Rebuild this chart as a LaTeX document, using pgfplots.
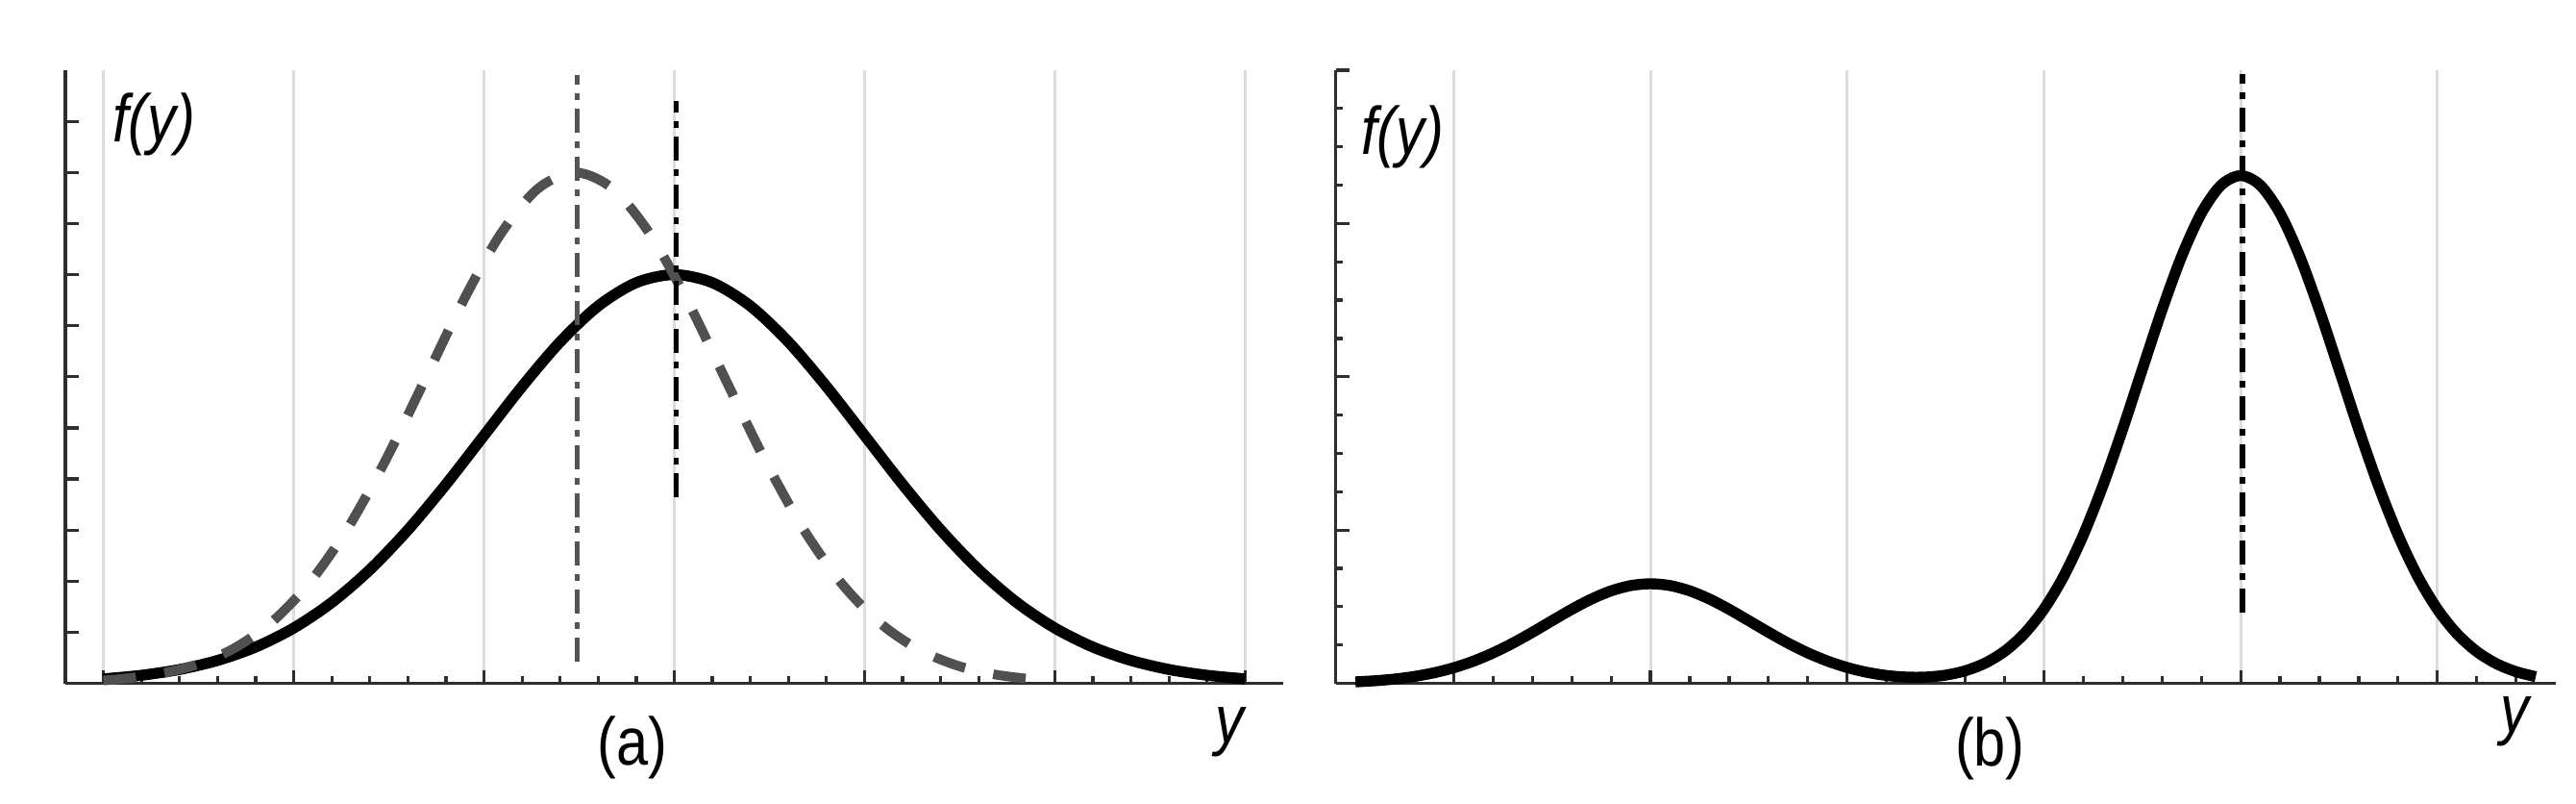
\documentclass[border=0pt]{standalone}
\usepackage{fontspec}
\setmainfont{Liberation Sans}
\usepackage{pgfplots}
\pgfplotsset{compat=1.18}
\definecolor{axiscol}{HTML}{2E2E2E}
\definecolor{gridcol}{HTML}{DCDCDC}
\definecolor{dashcol}{HTML}{505050}
\definecolor{dotcol}{HTML}{555555}

\pgfplotsset{
  mystyle/.style={
    scale only axis,
    axis lines*=left,
    axis line style={line width=0.85pt, color=axiscol},
    tick align=inside,
    tick style={line width=0.8pt, color=axiscol},
    major tick length=3.5pt,
    minor tick length=1.85pt,
    xticklabel=\empty, yticklabel=\empty,
    xmajorgrids=true,
    grid style={line width=0.75pt, color=gridcol},
    ymin=0,
    clip=false,
  },
  dashdot/.style={line width=1.4pt, dash pattern=on 6.25pt off 2.25pt on 1.75pt off 2.25pt},
}

\begin{document}
\begin{tikzpicture}
\path[use as bounding box] (0,0) rectangle (670pt,209pt);

% ---------------- panel (a)
\begin{axis}[mystyle, at={(17pt,31.35pt)}, anchor=south west,
  width=316.75pt, height=159.4pt,
  xmin=-0.2, xmax=6.2, ymax=12,
  xtick={0,1,2,3,4,5,6},
  minor xtick={0.2,0.4,0.6,0.8,1.2,1.4,1.6,1.8,2.2,2.4,2.6,2.8,3.2,3.4,3.6,3.8,4.2,4.4,4.6,4.8,5.2,5.4,5.6,5.8},
  ytick={1,2,3,4,5,6,7,8,9,10,11}]
\addplot[black, line width=2.85pt, smooth] coordinates {
(0.0,0.089) (0.2,0.159) (0.4,0.272) (0.6,0.449) (0.8,0.711) (1.0,1.083)
(1.2,1.583) (1.4,2.224) (1.6,3.003) (1.8,3.894) (2.0,4.852) (2.2,5.809)
(2.4,6.682) (2.6,7.385) (2.8,7.842) (3.0,8.000) (3.2,7.842) (3.4,7.385)
(3.6,6.682) (3.8,5.809) (4.0,4.852) (4.2,3.894) (4.4,3.003) (4.6,2.224)
(4.8,1.583) (5.0,1.083) (5.2,0.711) (5.4,0.449) (5.6,0.272) (5.8,0.159)
(6.0,0.089)};
\addplot[dashcol, line width=2.5pt, smooth, dash pattern=on 8.5pt off 7.5pt] coordinates {
(0.00,0.059) (0.08,0.082) (0.28,0.177) (0.48,0.357) (0.68,0.672) (0.88,1.184)
(1.08,1.953) (1.28,3.012) (1.48,4.346) (1.68,5.866) (1.88,7.408) (2.08,8.752)
(2.28,9.672) (2.48,10.000) (2.68,9.672) (2.88,8.752) (3.08,7.408) (3.28,5.866)
(3.48,4.346) (3.68,3.012) (3.88,1.953) (4.08,1.184) (4.28,0.672) (4.48,0.357)
(4.68,0.177) (4.88,0.082) (4.96,0.059)};
\addplot[dotcol, dashdot] coordinates {(2.49,0.43) (2.49,11.91)};
\addplot[black, dashdot] coordinates {(3.01,3.64) (3.01,11.39)};
\end{axis}

% ---------------- panel (b)
\begin{axis}[mystyle, at={(347.4pt,31.35pt)}, anchor=south west,
  width=317.25pt, height=159.4pt,
  xmin=-0.6, xmax=5.6, ymax=16,
  xtick={0,1,2,3,4,5},
  minor xtick={-0.4,-0.2,0.2,0.4,0.6,0.8,1.2,1.4,1.6,1.8,2.2,2.4,2.6,2.8,3.2,3.4,3.6,3.8,4.2,4.4,4.6,4.8,5.2,5.4},
  ytick={4,8,12,16},
  minor ytick={1,2,3,5,6,7,9,10,11,13,14,15}]
\addplot[black, line width=2.85pt, smooth] coordinates {
(-0.5,0.040) (-0.4,0.069) (-0.3,0.114) (-0.2,0.181) (-0.1,0.277) (0.0,0.408)
(0.1,0.580) (0.2,0.795) (0.3,1.049) (0.4,1.335) (0.5,1.636) (0.6,1.933)
(0.7,2.201) (0.8,2.414) (0.9,2.552) (1.0,2.600) (1.1,2.552) (1.2,2.414)
(1.3,2.201) (1.4,1.933) (1.5,1.636) (1.6,1.335) (1.7,1.049) (1.8,0.795)
(1.9,0.583) (2.0,0.414) (2.1,0.290) (2.2,0.207) (2.3,0.165) (2.4,0.165)
(2.5,0.215) (2.6,0.329) (2.7,0.526) (2.8,0.837) (2.9,1.296) (3.0,1.938)
(3.1,2.790) (3.2,3.870) (3.3,5.164) (3.4,6.630) (3.5,8.193) (3.6,9.741)
(3.7,11.144) (3.8,12.269) (3.9,12.998) (4.0,13.250) (4.1,12.998) (4.2,12.269)
(4.3,11.144) (4.4,9.741) (4.5,8.193) (4.6,6.630) (4.7,5.164) (4.8,3.870)
(4.9,2.790) (5.0,1.936) (5.1,1.293) (5.2,0.831) (5.3,0.514) (5.4,0.306)
(5.5,0.175)};
\addplot[black, dashdot] coordinates {(4.01,1.85) (4.01,15.9)};
\end{axis}

% ---------------- texts
\begin{scope}[every node/.style={inner sep=0pt, outer sep=0pt, xscale=0.85, font=\fontsize{17.5}{20}\selectfont}]
\node[anchor=west] at (29.25pt,176.75pt) {\textit{f(y)}};
\node[anchor=west] at (354pt,173.4pt) {\textit{f(y)}};
\node at (164.5pt,14.75pt) {(a)};
\node at (517.6pt,14.5pt) {(b)};
\node at (320.25pt,18.75pt) {\textit{y}};
\node at (654.5pt,21.5pt) {\textit{y}};
\end{scope}
\end{tikzpicture}
\end{document}
